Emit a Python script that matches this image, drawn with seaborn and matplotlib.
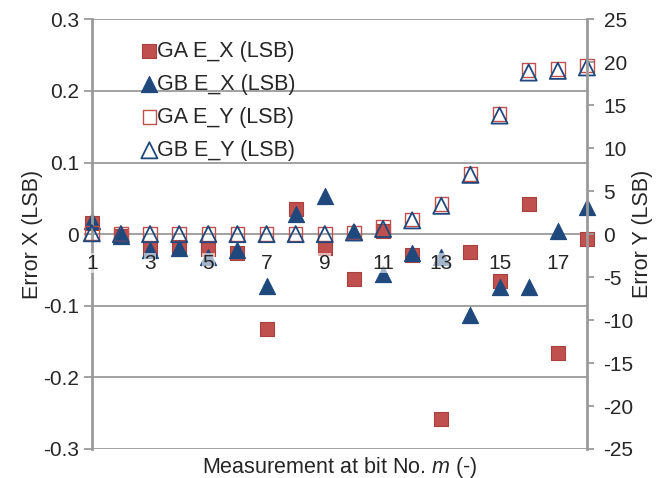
import numpy as np
import matplotlib
matplotlib.use("Agg")
import matplotlib.pyplot as plt
import seaborn as sns

# measurement index (bit No. m)
bits = list(range(1, 19))

# Error X (left axis, LSB)
ga_ex = [0.015, -0.003, -0.021, -0.018, -0.021, -0.027, -0.132, 0.035, -0.019,
         -0.062, 0.005, -0.029, -0.258, -0.025, -0.066, 0.042, -0.166, -0.007]
gb_ex = [0.018, -0.002, -0.022, -0.019, -0.032, -0.022, -0.073, 0.028, 0.053,
         0.003, -0.055, -0.027, -0.032, -0.113, -0.074, -0.074, 0.005, 0.038]

# Error Y (right axis, LSB)
ga_ey = [0.1, 0.0, 0.0, 0.0, 0.0, 0.0, 0.0, 0.0, 0.0,
         0.2, 0.8, 1.7, 3.5, 7.0, 14.0, 19.1, 19.2, 19.6]
gb_ey = [0.1, 0.0, 0.0, 0.0, 0.0, 0.0, 0.0, 0.0, 0.0,
         0.2, 0.6, 1.6, 3.3, 6.9, 13.8, 18.8, 19.0, 19.4]

x_ticks = [1, 3, 5, 7, 9, 11, 13, 15, 17]
left_ticks = [-0.3, -0.2, -0.1, 0.0, 0.1, 0.2, 0.3]
left_labels = ["-0.3", "-0.2", "-0.1", "0", "0.1", "0.2", "0.3"]
right_ticks = list(range(-25, 30, 5))

RED = "#C0504D"
RED_EDGE = "#A8403D"
BLUE = "#1F497D"
GRID = "#9A9A9A"
FS = 15.5

sns.set_style("white")
plt.rcParams["font.family"] = ["Liberation Sans", "DejaVu Sans"]
plt.rcParams["mathtext.fontset"] = "custom"
plt.rcParams["mathtext.it"] = "Liberation Sans:italic"
plt.rcParams["mathtext.rm"] = "Liberation Sans"
plt.rcParams["axes.unicode_minus"] = False

fig = plt.figure(figsize=(6.7, 4.78), dpi=100)
ax = fig.add_axes([0.137, 0.0607, 0.739, 0.899])
ax2 = ax.twinx()

# grid behind everything
for t in left_ticks:
    ax.axhline(t, color=GRID, lw=1.3, zorder=0)

sns.scatterplot(x=bits, y=ga_ex, marker="s", s=95, color=RED, edgecolor=RED_EDGE,
                linewidth=0.8, ax=ax, zorder=2, clip_on=False,
                label="GA E_X (LSB)", legend=False)
sns.scatterplot(x=bits, y=gb_ex, marker="^", s=135, color=BLUE, edgecolor=BLUE,
                linewidth=0.8, ax=ax, zorder=2, clip_on=False,
                label="GB E_X (LSB)", legend=False)
sns.scatterplot(x=bits, y=ga_ey, marker="s", s=95, facecolor="none", edgecolor=RED,
                linewidth=1.0, ax=ax2, clip_on=False,
                label="GA E_Y (LSB)", legend=False)
sns.scatterplot(x=bits, y=gb_ey, marker="^", s=135, facecolor="none", edgecolor=BLUE,
                linewidth=1.3, ax=ax2, clip_on=False,
                label="GB E_Y (LSB)", legend=False)

ax.set_xlim(1, 18)
ax.set_ylim(-0.3, 0.3)
ax2.set_ylim(-25, 25)

ax.set_axisbelow(False)
ax.set_xticks(x_ticks)
ax.set_xticklabels([str(v) for v in x_ticks])
ax.set_yticks(left_ticks)
ax.set_yticklabels(left_labels)
ax2.set_yticks(right_ticks)

ax.spines["bottom"].set_position(("data", 0))
ax.spines["bottom"].set_visible(False)
ax.spines["top"].set_visible(False)
ax.spines["right"].set_visible(False)
ax.spines["left"].set_color(GRID)
ax.spines["left"].set_linewidth(2)
for s in ["top", "left", "bottom"]:
    ax2.spines[s].set_visible(False)
ax2.spines["right"].set_color(GRID)
ax2.spines["right"].set_linewidth(2)

ax.tick_params(axis="x", direction="out", length=5, width=1.3, color=GRID,
               labelsize=15, pad=9)
ax.tick_params(axis="y", direction="out", length=6, width=1.3, color=GRID,
               labelsize=15, pad=3)
ax2.tick_params(axis="y", direction="out", length=5, width=1.3, color=GRID,
                labelsize=15, pad=7)
for lab in ax.get_xticklabels():
    lab.set_bbox(dict(facecolor="white", alpha=0.6, edgecolor="none", pad=0.5))

ax.set_ylabel("Error X (LSB)", fontsize=FS, va="center")
ax.yaxis.set_label_coords(-0.12, 0.5)
ax2.set_ylabel("Error Y (LSB)", fontsize=FS, rotation=90, va="center")
ax2.yaxis.set_label_coords(1.113, 0.5)
ax.set_xlabel("Measurement at bit No. $\\it{m}$ (-)", fontsize=FS, va="center")
ax.xaxis.set_label_coords(0.5, -0.042)

h1, l1 = ax.get_legend_handles_labels()
h2, l2 = ax2.get_legend_handles_labels()
leg = ax.legend(h1 + h2, l1 + l2, loc="upper left", bbox_to_anchor=(0.075, 0.97),
                frameon=False, fontsize=FS, handletextpad=-0.2, handlelength=1.1,
                labelspacing=0.56, borderaxespad=0)
leg.set_zorder(5)

fig.savefig("out.png", dpi=100)
